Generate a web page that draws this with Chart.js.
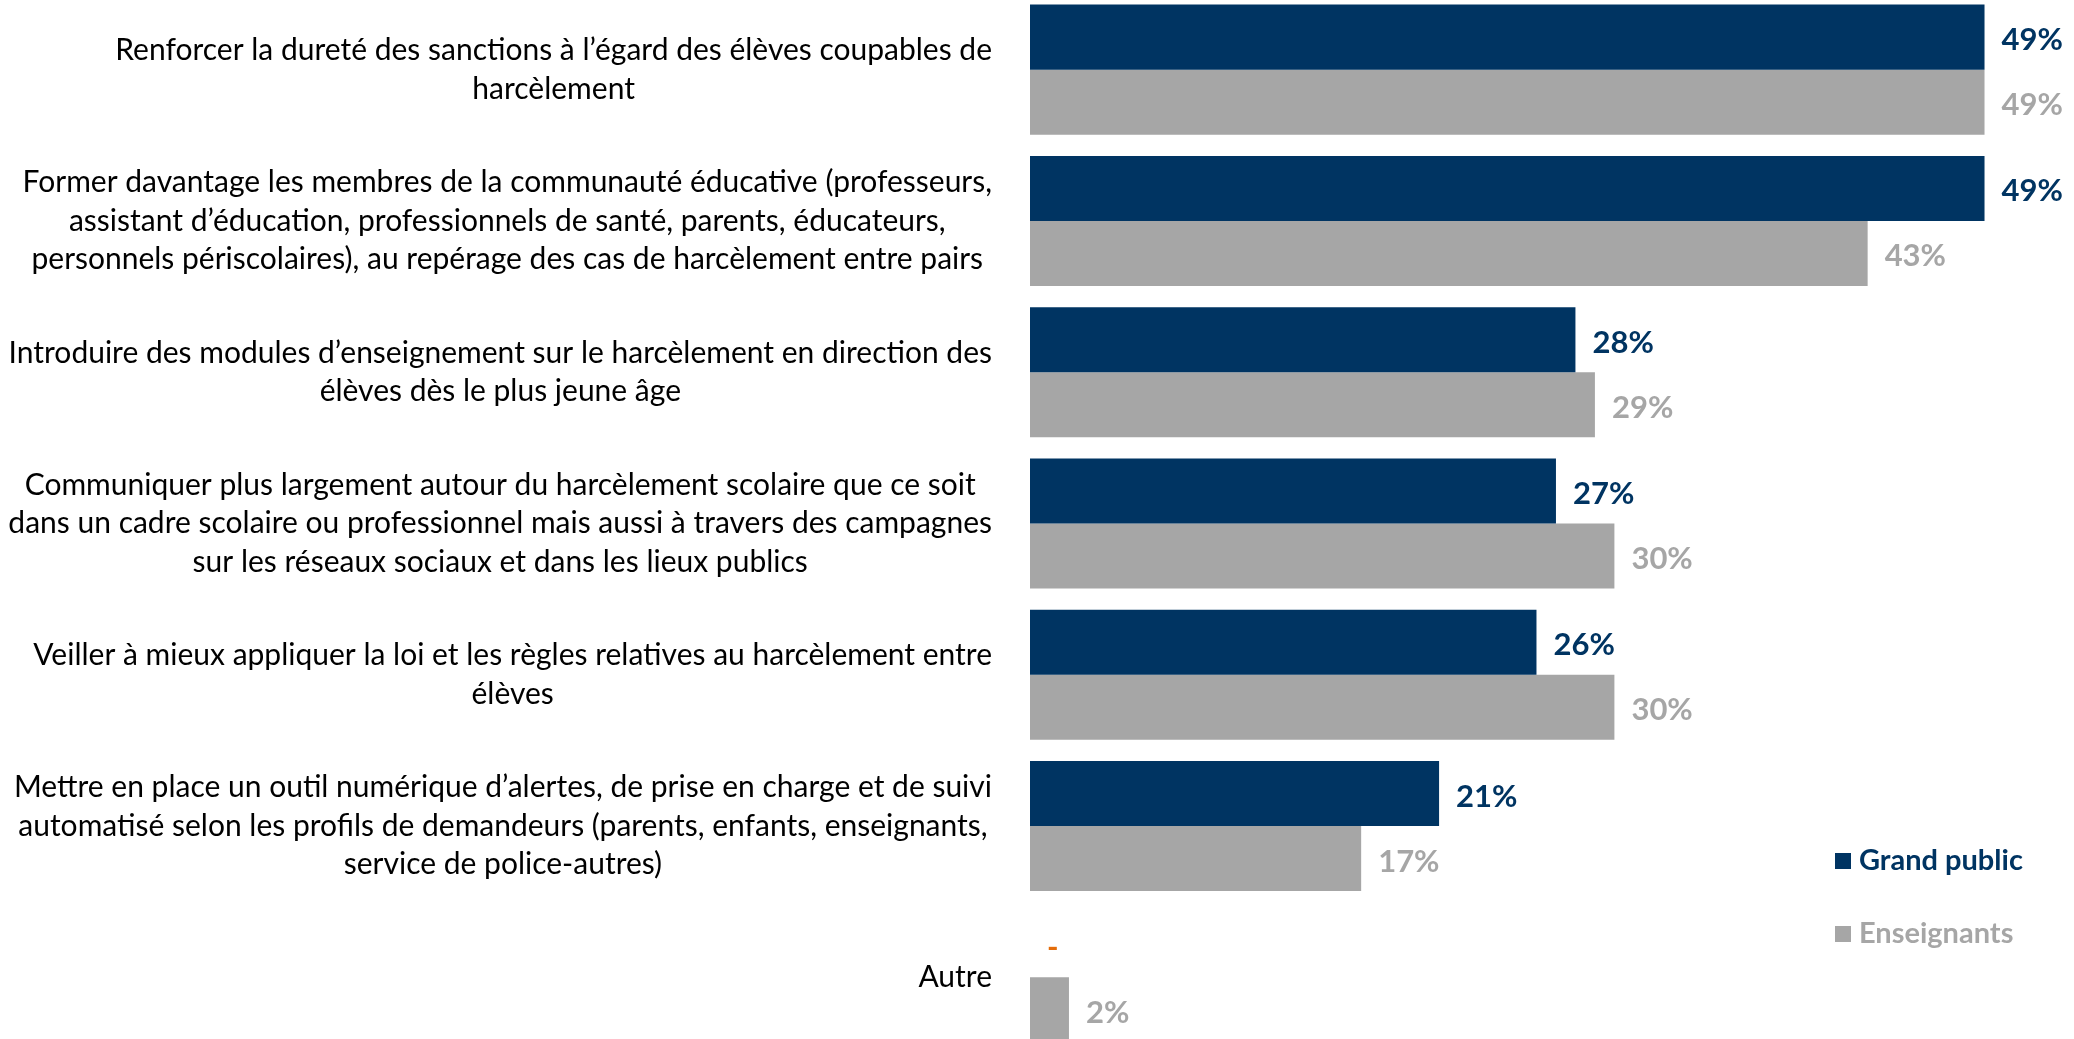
<!DOCTYPE html>
<html>
<head>
<meta charset="utf-8">
<script src="https://cdn.jsdelivr.net/npm/chart.js@4.4.1/dist/chart.umd.min.js"></script>
<style>
  html, body { margin: 0; padding: 0; background: #fff; overflow: hidden; }
  #wrap { position: absolute; left: 0; top: -6px; width: 2074px; height: 1059px; }
</style>
</head>
<body>
<div id="wrap"><canvas id="chart"></canvas></div>
<script>
// Categories (one array of lines per bar group)
const categories = [
    ['Renforcer la dureté des sanctions à l’égard des élèves coupables de', 'harcèlement'],
    ['Former davantage les membres de la communauté éducative (professeurs,', 'assistant d’éducation, professionnels de santé, parents, éducateurs,', 'personnels périscolaires), au repérage des cas de harcèlement entre pairs'],
    ['Introduire des modules d’enseignement sur le harcèlement en direction des', 'élèves dès le plus jeune âge'],
    ['Communiquer plus largement autour du harcèlement scolaire que ce soit', 'dans un cadre scolaire ou professionnel mais aussi à travers des campagnes', 'sur les réseaux sociaux et dans les lieux publics'],
    ['Veiller à mieux appliquer la loi et les règles relatives au harcèlement entre', 'élèves'],
    ['Mettre en place un outil numérique d’alertes, de prise en charge et de suivi', 'automatisé selon les profils de demandeurs (parents, enfants, enseignants,', 'service de police-autres)'],
    ['Autre']
];

// Series values (%)
const grandPublic = [49, 49, 28, 27, 26, 21, 0];
const enseignants = [49, 43, 29, 30, 30, 17, 2];

const seriesNames = ['Grand public', 'Enseignants'];
const NAVY = '#003462';
const GREY = '#A6A6A6';
const ORANGE = '#E46C0A';
const FONT = 'Lato';

// Draw wrapped category labels: block right-aligned, lines centered inside block
const categoryLabels = {
    id: 'categoryLabels',
    afterDraw(chart) {
        const ctx = chart.ctx;
        const y = chart.scales.y;
        const right = chart.chartArea.left - 38;
        const lineH = 38.4;
        ctx.save();
        ctx.font = '30px ' + FONT;
        ctx.fillStyle = '#000';
        ctx.textAlign = 'center';
        ctx.textBaseline = 'middle';
        chart.data.labels.forEach((lines, i) => {
            const cy = y.getPixelForValue(i);
            let w = 0;
            lines.forEach(l => { w = Math.max(w, ctx.measureText(l).width); });
            const cx = right - w / 2;
            const top = cy - (lines.length - 1) * lineH / 2;
            lines.forEach((l, k) => ctx.fillText(l, cx, top + k * lineH));
        });
        ctx.restore();
    }
};

// Value labels at the end of each bar
const valueLabels = {
    id: 'valueLabels',
    afterDatasetsDraw(chart) {
        const ctx = chart.ctx;
        ctx.save();
        ctx.font = 'bold 31px ' + FONT;
        ctx.textAlign = 'left';
        ctx.textBaseline = 'middle';
        chart.data.datasets.forEach((ds, di) => {
            const meta = chart.getDatasetMeta(di);
            meta.data.forEach((bar, i) => {
                const v = ds.data[i];
                if (v === 0) {
                    ctx.fillStyle = ORANGE;
                    ctx.fillText('-', bar.x + 17, bar.y + 3);
                } else {
                    ctx.fillStyle = ds.backgroundColor;
                    ctx.fillText(v + '%', bar.x + 17, bar.y + 3);
                }
            });
        });
        ctx.restore();
    }
};

// Legend in the bottom right corner
const cornerLegend = {
    id: 'cornerLegend',
    afterDraw(chart) {
        const ctx = chart.ctx;
        const x = 1835;
        const ys = [867, 940];
        ctx.save();
        ctx.font = 'bold 29px ' + FONT;
        ctx.textBaseline = 'middle';
        chart.data.datasets.forEach((ds, i) => {
            ctx.fillStyle = ds.backgroundColor;
            ctx.fillRect(x, ys[i] - 8, 16, 16);
            ctx.fillText(ds.label, x + 24, ys[i]);
        });
        ctx.restore();
    }
};

new Chart(document.getElementById('chart'), {
    type: 'bar',
    data: {
        labels: categories,
        datasets: [
            { label: seriesNames[0], data: grandPublic, backgroundColor: NAVY },
            { label: seriesNames[1], data: enseignants, backgroundColor: GREY }
        ]
    },
    options: {
        indexAxis: 'y',
        responsive: true,
        maintainAspectRatio: false,
        animation: false,
        layout: { padding: { left: 0, right: 70, top: 0, bottom: 0 } },
        datasets: {
            bar: { categoryPercentage: 0.86, barPercentage: 1.0, borderWidth: 0 }
        },
        scales: {
            x: { display: false, min: 0, max: 50 },
            y: {
                grid: { display: false },
                border: { display: false },
                ticks: { display: false },
                afterFit(scale) { scale.width = 1030; }
            }
        },
        plugins: {
            legend: { display: false },
            tooltip: { enabled: false }
        }
    },
    plugins: [categoryLabels, valueLabels, cornerLegend]
});
</script>
</body>
</html>
